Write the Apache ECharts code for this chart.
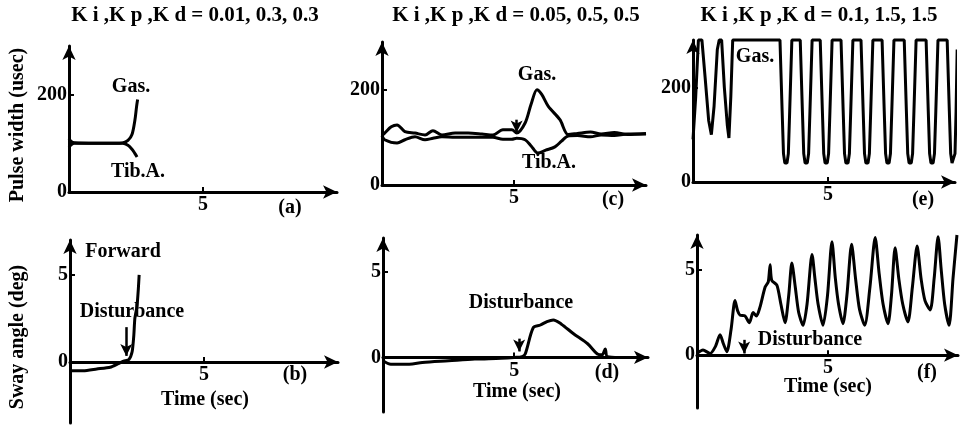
<!DOCTYPE html>
<html>
<head>
<meta charset="utf-8">
<script src="https://cdn.jsdelivr.net/npm/echarts@6/dist/echarts.min.js"></script>
<style>html,body{margin:0;padding:0;background:#fff}#c{width:961px;height:426px}</style>
</head>
<body>
<div id="c"></div>
<script>
// ---- data ----
const titles = ['K i ,K p ,K d = 0.01, 0.3, 0.3', 'K i ,K p ,K d = 0.05, 0.5, 0.5', 'K i ,K p ,K d = 0.1, 1.5, 1.5'];
const panelTags = ['(a)', '(c)', '(e)', '(b)', '(d)', '(f)'];
const xTickValues = [5];
const yTickTop = [0, 200];
const yTickBottom = [0, 5];

const gasA = [[0,110],[0.08,104],[0.2,101],[1,100],[1.7,100],[2.0,101],[2.2,106],[2.35,118],[2.46,148],[2.52,175],[2.56,190]];
const tibA = [[0,92],[0.08,97],[0.2,100],[1,100],[1.7,100],[2.0,100],[2.2,96],[2.35,88],[2.45,80],[2.54,72]];

const gasC = [[0,104],[0.1,109],[0.35,122],[0.57,126],[0.87,112],[1.25,109],[1.63,105],[1.93,114],[2.27,105],[2.77,109],[3.26,109],[3.79,107],[4.2,105],[4.58,116],[4.92,116],[5.1,109],[5.42,130],[5.65,170],[5.87,200],[6.05,190],[6.3,165],[6.74,137],[7.05,106],[7.4,108],[7.9,111],[8.3,107],[8.8,110],[9.3,106],[10,108]];
const tibC = [[0,104],[0.1,95],[0.57,88],[0.87,95],[1.25,101],[1.63,95],[1.93,98],[2.27,101],[2.77,100],[3.26,100],[3.79,100],[4.2,100],[4.58,96],[4.92,96],[5.1,98],[5.42,95],[5.65,82],[5.9,67],[6.2,73],[6.55,80],[6.8,92],[7.05,103],[7.4,104],[7.9,101],[8.3,105],[8.8,104],[9.3,107],[10,107]];

const gasE = [[0,90],[0.1,180],[0.2,300],[0.33,300],[0.45,220],[0.58,130],[0.68,100],[0.78,160],[0.9,280],[0.97,300],[1.06,300],[1.16,200],[1.27,120],[1.33,93],[1.4,180],[1.47,300],
  [3.22,300],[3.3,150],[3.35,60],[3.4,40],[3.48,40],[3.53,60],[3.58,150],[3.66,300],
  [3.97,300],[4.05,150],[4.1,60],[4.15,40],[4.23,40],[4.28,60],[4.33,150],[4.41,300],
  [4.71,300],[4.79,150],[4.84,60],[4.89,40],[4.97,40],[5.02,60],[5.07,150],[5.15,300],
  [5.48,300],[5.56,150],[5.61,60],[5.66,40],[5.74,40],[5.79,60],[5.84,150],[5.92,300],
  [6.22,300],[6.30,150],[6.35,60],[6.4,40],[6.48,40],[6.53,60],[6.58,150],[6.66,300],
  [7.0,300],[7.08,150],[7.13,60],[7.18,40],[7.26,40],[7.31,60],[7.36,150],[7.44,300],
  [7.82,300],[7.9,150],[7.95,60],[8.0,40],[8.08,40],[8.13,60],[8.18,150],[8.26,300],
  [8.63,300],[8.71,150],[8.76,60],[8.81,40],[8.89,40],[8.94,60],[8.99,150],[9.07,300],
  [9.41,300],[9.49,150],[9.54,60],[9.59,40],[9.66,40],[9.7,60],[9.74,150],[9.78,280]];

const swayB = [[0,-0.5],[0.5,-0.5],[1,-0.4],[1.5,-0.3],[1.8,-0.1],[2.0,0.05],[2.2,0.15],[2.32,0.6],[2.38,1.5],[2.42,2.5],[2.5,3.2],[2.55,4.2],[2.58,5]];
const swayD = [[0,-0.2],[0.3,-0.4],[1,-0.4],[1.5,-0.3],[2.5,-0.2],[3.5,-0.1],[4.5,-0.05],[5.0,0],[5.3,0.05],[5.42,0.2],[5.73,1.75],[6.0,1.9],[6.25,2.1],[6.49,2.2],[6.8,1.95],[7.25,1.4],[7.8,0.8],[8.17,0.2],[8.35,0.15],[8.47,0.5],[8.55,0.05],[9,0]];
const swayF = [[0,0.1],[0.23,0.3],[0.5,0.1],[0.7,0.5],[0.88,1.2],[1.0,0.7],[1.14,0.2],[1.3,1.5],[1.45,3.2],[1.55,2.6],[1.64,2.35],[1.83,2.3],[2.0,1.9],[2.14,2.5],[2.27,2.3],[2.4,2.8],[2.6,4.0],[2.72,4.3],[2.79,5.3],[2.85,4.4],[3.05,4.1],[3.2,3.0],[3.36,1.9],[3.5,3.5],[3.62,5.4],[3.75,4.0],[3.88,2.5],[4.05,1.75],[4.2,3.0],[4.39,5.9],[4.5,4.5],[4.62,3.0],[4.81,1.75],[4.98,3.5],[5.15,6.65],[5.28,4.5],[5.4,3.0],[5.57,1.85],[5.72,3.5],[5.9,6.5],[6.05,4.5],[6.2,2.7],[6.4,1.75],[6.6,4.0],[6.8,6.9],[6.95,4.8],[7.1,3.0],[7.29,1.85],[7.42,3.5],[7.56,6.3],[7.7,4.5],[7.85,3.0],[8.05,1.95],[8.22,4.0],[8.4,6.4],[8.55,4.5],[8.7,3.2],[8.9,2.65],[9.05,4.5],[9.2,6.95],[9.32,5.0],[9.45,3.0],[9.62,1.75],[9.77,4.5],[9.92,7.05]];

// disturbance arrows: [time, from, to]
const distB = [2.1, 2.0, 0.35];
const distC = [5.1, 137, 110];
const distD = [5.19, 1.1, 0.35];
const distF = [1.8, 0.9, 0.1];

// ---- layout ----
const FONT = "'Liberation Serif','DejaVu Serif',serif";
const grids = [
  {left:69, top:46, width:268, height:146},
  {left:382, top:42, width:264, height:143},
  {left:693, top:40, width:262, height:142},
  {left:70, top:240, width:268, height:183},
  {left:383, top:238, width:265, height:174},
  {left:697, top:235, width:261, height:173}
];
const xMax = [10, 10, 9.7, 10, 10.1, 9.96];
const yMin = [0, 0, 0, -3.5, -3.2, -3.1];
const yMax = [300, 300, 300, 7, 7, 7.05];

const axisLineStyle = {color:'#000', width:3};
const xAxes = grids.map((g,i)=>({
  type:'value', gridIndex:i, min:0, max:xMax[i], position:'bottom',
  offset: -g.height * (-yMin[i]) / (yMax[i] - yMin[i]),
  axisLine:{onZero:false, lineStyle:axisLineStyle, symbol:['none','arrow'], symbolSize:[10,14]},
  axisTick:{show:true, inside:true, length:5, customValues:xTickValues, lineStyle:{color:'#000', width:2}},
  axisLabel:{customValues:xTickValues, color:'#000', fontFamily:FONT, fontWeight:'bold', fontSize:20, margin:3},
  splitLine:{show:false}
}));
const yAxes = grids.map((g,i)=>{
  const ticks = i < 3 ? yTickTop : yTickBottom;
  return {
    type:'value', gridIndex:i, min:yMin[i], max:yMax[i],
    axisLine:{onZero:false, lineStyle:axisLineStyle, symbol:['none','arrow'], symbolSize:[10,14]},
    axisTick:{show:true, inside:true, length:5, customValues:ticks, lineStyle:{color:'#000', width:2}},
    axisLabel:{customValues:ticks, color:'#000', fontFamily:FONT, fontWeight:'bold', fontSize:20, margin:2},
    splitLine:{show:false}
  };
});

function line(data, idx, smooth, extra){
  return Object.assign({
    type:'line', xAxisIndex:idx, yAxisIndex:idx, data:data, showSymbol:false, symbol:'none',
    smooth:smooth, lineStyle:{color:'#000', width:3}, silent:true, animation:false
  }, extra||{});
}
function arrowMark(d){
  return {
    silent:true, symbol:['none','arrow'], symbolSize:[9,12], label:{show:false},
    lineStyle:{color:'#000', width:2.5, type:'solid'},
    data:[[{coord:[d[0], d[1]]},{coord:[d[0], d[2]]}]]
  };
}

const series = [
  line(gasA,0,0.3), line(tibA,0,0.3),
  line(gasC,1,0.3), line(tibC,1,0.3,{markLine:arrowMark(distC)}),
  line(gasE,2,0,{clip:false}),
  line(swayB,3,0.2,{markLine:arrowMark(distB)}),
  line(swayD,4,0.3,{markLine:arrowMark(distD)}),
  line(swayF,5,0.25,{clip:false, markLine:arrowMark(distF)})
];

function txt(s, x, y, opt, size){
  return Object.assign({type:'text', x:x, y:y, silent:true,
    style:{text:s, fill:'#000', font:'bold ' + (size||20) + 'px ' + FONT, textAlign:'center', textVerticalAlign:'middle'}}, opt||{});
}
const graphics = [
  txt(titles[0], 195, 16, null, 21), txt(titles[1], 516, 16, null, 21), txt(titles[2], 819, 16, null, 21),
  txt('Pulse width (usec)', 18, 125, {rotation:Math.PI/2}),
  txt('Sway angle (deg)', 18, 337, {rotation:Math.PI/2}),
  txt(panelTags[0], 290, 208), txt(panelTags[1], 613, 200), txt(panelTags[2], 923, 200),
  txt(panelTags[3], 295, 375), txt(panelTags[4], 607, 373), txt(panelTags[5], 927, 373),
  txt('Time (sec)', 205, 400), txt('Time (sec)', 517, 392), txt('Time (sec)', 828, 387),
  txt('Gas.', 131, 87), txt('Tib.A.', 138, 172),
  txt('Gas.', 537, 75), txt('Tib.A.', 549, 163),
  txt('Gas.', 755, 57),
  txt('Forward', 123, 252),
  txt('Disturbance', 132, 312), txt('Disturbance', 521, 303), txt('Disturbance', 810, 340)
];

const chart = echarts.init(document.getElementById('c'), null, {renderer:'canvas'});
chart.setOption({
  backgroundColor:'#fff', animation:false,
  grid:grids, xAxis:xAxes, yAxis:yAxes, series:series, graphic:graphics
});
</script>
</body>
</html>
